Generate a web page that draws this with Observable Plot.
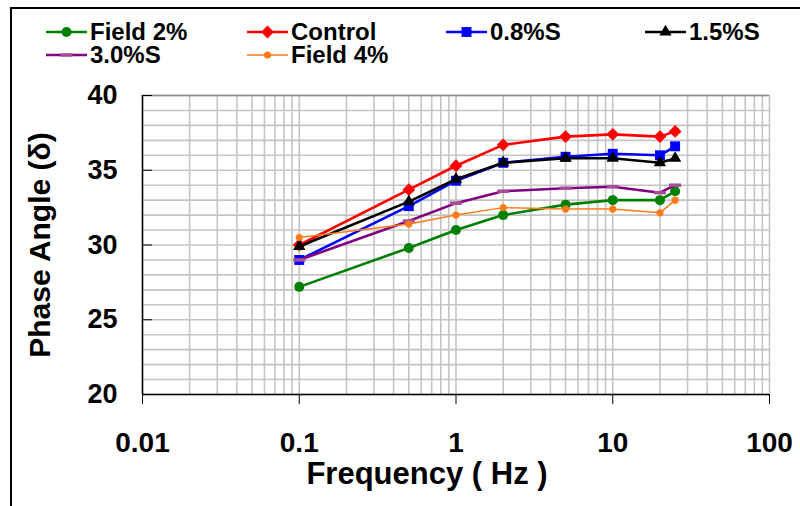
<!DOCTYPE html>
<html>
<head>
<meta charset="utf-8">
<script src="https://cdn.jsdelivr.net/npm/d3@7"></script>
<script src="https://cdn.jsdelivr.net/npm/@observablehq/plot@0.6"></script>
<style>
  html, body { margin: 0; padding: 0; background: #fff; }
  body { width: 800px; height: 506px; overflow: hidden; position: relative;
         font-family: Arial, "Liberation Sans", sans-serif; font-weight: bold; color: #000; }
  #legend { position: relative; height: 70px; }
  .item { position: absolute; display: flex; align-items: center; height: 22px;
          font-size: 24px; line-height: 22px; white-space: nowrap; }
  .item svg { display: block; margin-right: 3px; }
  #chart svg { display: block; }
  #frame { position: absolute; left: 10px; top: 7px; width: 830px; height: 540px;
           border: 2px solid #000; box-sizing: border-box; pointer-events: none; }
</style>
</head>
<body>
<div id="legend"></div>
<div id="chart"></div>
<div id="frame"></div>
<script>
// Test frequencies (Hz)
const frequency = [0.1, 0.5, 1, 2, 5, 10, 20, 25];

// Phase angle (degrees) for each mix
const field2  = [27.2, 29.8, 31.0, 32.0, 32.7, 33.0, 33.0, 33.6];
const control = [30.0, 33.7, 35.3, 36.7, 37.25, 37.4, 37.25, 37.6];
const s08     = [29.0, 32.6, 34.3, 35.5, 35.9, 36.1, 36.0, 36.6];
const s15     = [29.9, 32.9, 34.4, 35.5, 35.8, 35.8, 35.5, 35.8];
const s30     = [29.0, 31.6, 32.8, 33.6, 33.8, 33.9, 33.5, 34.0];
const field4  = [30.5, 31.4, 32.0, 32.5, 32.4, 32.4, 32.15, 33.0];

const seriesNames = ["Field 2%", "Control", "0.8%S", "1.5%S", "3.0%S", "Field 4%"];
const seriesValues = [field2, control, s08, s15, s30, field4];

// Axis ticks and labels
const xTicks = [0.01, 0.1, 1, 10, 100];
const xTickLabels = ["0.01", "0.1", "1", "10", "100"];
const yTicks = [20, 25, 30, 35, 40];
const yTickLabels = ["20", "25", "30", "35", "40"];

// Short horizontal dash marker
const dashSymbol = {
  draw(context) { context.rect(-6, -1.75, 12, 3.5); }
};

// Line and marker styling per series
const styles = [
  {color: "#008000", width: 2.6, symbol: "circle",   r: 5,   fill: "#008000"},
  {color: "#ff0000", width: 2.6, symbol: "diamond2", r: 5.8, fill: "#ff0000"},
  {color: "#0000ff", width: 2.6, symbol: "square",   r: 5.6, fill: "#0000ff"},
  {color: "#000000", width: 2.6, symbol: "triangle", r: 4.6, fill: "#000000"},
  {color: "#800080", width: 2.6, symbol: dashSymbol, r: 4,   fill: "#a64d96"},
  {color: "#ff7a1a", width: 1.5, symbol: "circle",   r: 3.6, fill: "#ff7a1a"}
];

const rows = seriesNames.flatMap((name, s) =>
  frequency.map((f, i) => ({series: name, frequency: f, phase: seriesValues[s][i]}))
);

// Gridlines: every unit of phase angle, every log subdivision of frequency
const yGrid = d3.range(20, 41, 1);
const xGrid = [0.01, 0.1, 1, 10].flatMap(dec => d3.range(1, 10).map(m => +(dec * m).toPrecision(3))).concat([100]);

// Legend
const legendSlots = [
  {left: 46, top: 21}, {left: 247, top: 21}, {left: 446, top: 21}, {left: 645, top: 21},
  {left: 46, top: 44.3}, {left: 247, top: 44.3}
];
const d3Symbols = {circle: d3.symbolCircle, diamond2: d3.symbolDiamond2, square: d3.symbolSquare, triangle: d3.symbolTriangle};
const legend = d3.select("#legend");
seriesNames.forEach((name, s) => {
  const st = styles[s];
  const item = legend.append("div").attr("class", "item")
    .style("left", legendSlots[s].left + "px").style("top", legendSlots[s].top + "px");
  const sw = item.append("svg").attr("width", 41).attr("height", 22);
  sw.append("line").attr("x1", 0).attr("x2", 41).attr("y1", 11).attr("y2", 11)
    .attr("stroke", st.color).attr("stroke-width", st.width);
  if (typeof st.symbol === "string") {
    sw.append("path").attr("transform", "translate(20.5,11)")
      .attr("d", d3.symbol(d3Symbols[st.symbol], Math.PI * st.r * st.r)())
      .attr("fill", st.fill);
  } else {
    sw.append("rect").attr("x", 14.5).attr("y", 9.25).attr("width", 12).attr("height", 3.5).attr("fill", st.fill);
  }
  item.append("span").text(name);
});

const seriesMarks = seriesNames.flatMap((name, s) => {
  const st = styles[s];
  const data = rows.filter(d => d.series === name);
  return [
    Plot.line(data, {x: "frequency", y: "phase", stroke: st.color, strokeWidth: st.width}),
    Plot.dot(data, {x: "frequency", y: "phase", symbol: st.symbol, r: st.r, fill: st.fill, stroke: "none"})
  ];
});

const chart = Plot.plot({
  width: 800,
  height: 436,
  marginTop: 25,
  marginBottom: 112,
  marginLeft: 142,
  marginRight: 31,
  style: {fontFamily: "Arial, 'Liberation Sans', sans-serif", fontWeight: "bold", color: "#000",
          background: "transparent", overflow: "visible"},
  x: {type: "log", domain: [0.01, 100]},
  y: {domain: [20, 40]},
  marks: [
    Plot.ruleX(xGrid, {stroke: "#c4c4c4", strokeWidth: 1.6}),
    Plot.ruleY(yGrid, {stroke: "#c4c4c4", strokeWidth: 1.6}),
    Plot.ruleY([40], {stroke: "#8c8c8c", strokeWidth: 1.6}),
    Plot.ruleX([0.01], {stroke: "#000", strokeWidth: 1.5}),
    Plot.ruleY([20], {stroke: "#000", strokeWidth: 1.5}),
    Plot.axisX({ticks: xTicks, tickFormat: d => xTickLabels[xTicks.indexOf(d)],
                tickSize: 10, tickPadding: 28, fontSize: 28, label: null}),
    Plot.axisY({ticks: yTicks, tickFormat: d => yTickLabels[yTicks.indexOf(d)],
                tickSize: -10, tickPadding: 35, fontSize: 27, label: null}),
    ...seriesMarks,
    Plot.text(["Frequency ( Hz )"], {frameAnchor: "bottom", dx: -29, dy: 79.5, fontSize: 31,
                                     lineAnchor: "middle", textAnchor: "middle"}),
    Plot.text(["Phase Angle (δ)"], {frameAnchor: "left", rotate: -90, dx: -102, fontSize: 30,
                                    lineAnchor: "middle", textAnchor: "middle"})
  ]
});
document.getElementById("chart").append(chart);
</script>
</body>
</html>
